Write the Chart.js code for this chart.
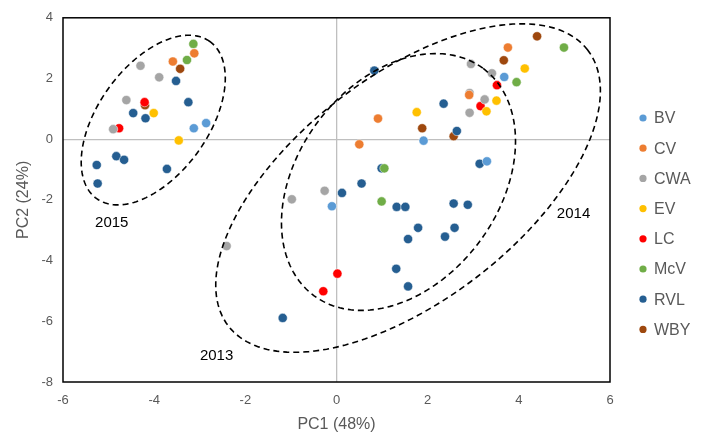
<!DOCTYPE html>
<html>
<head>
<meta charset="utf-8">
<script src="https://cdn.jsdelivr.net/npm/chart.js@4.4.0/dist/chart.umd.min.js"></script>
<style>
  html, body { margin: 0; padding: 0; background: #fff; }
  #wrap { width: 702px; height: 438px; position: relative; }
</style>
</head>
<body>
<div id="wrap"><canvas id="pca"></canvas></div>
<script>
// series names and colours
const seriesNames = ['BV', 'CV', 'CWA', 'EV', 'LC', 'McV', 'RVL', 'WBY'];
const seriesColors = ['#5B9BD5', '#ED7D31', '#A5A5A5', '#FFC000', '#FF0000', '#70AD47', '#255E91', '#9E480E'];

// PC1 / PC2 scores
const bvX = [-2.86, -3.13, 1.91, -0.10, 3.68, 3.30];
const bvY = [0.53, 0.36, -0.05, -2.21, 2.05, -0.73];
const cvX = [-3.12, -3.59, 0.91, 0.50, 3.76, 2.91];
const cvY = [2.83, 2.56, 0.68, -0.17, 3.02, 1.46];
const cwaX = [-4.30, -3.89, -4.61, -4.90, -0.26, -0.98, -2.41, 2.95, 3.41, 2.92, 3.25, 2.92];
const cwaY = [2.42, 2.04, 1.29, 0.33, -1.70, -1.98, -3.52, 2.48, 2.17, 1.52, 1.31, 0.87];
const evX = [-4.01, -3.46, 1.76, 4.13, 3.51, 3.29];
const evY = [0.86, -0.04, 0.89, 2.33, 1.27, 0.92];
const lcX = [-4.21, -4.77, 3.52, 3.16, 0.02, -0.29];
const lcY = [1.22, 0.36, 1.78, 1.09, -4.43, -5.01];
const mcvX = [-3.14, -3.28, 1.05, 0.99, 4.99, 3.95];
const mcvY = [3.14, 2.61, -0.96, -2.05, 3.02, 1.88];
const rvlX = [-3.52, -3.25, -4.46, -4.19, -4.83, -4.66, -5.26, -3.72, -5.24, 0.83, 2.35, 2.64, 0.99, 0.55, 0.12, 1.32, 1.51, 2.57, 2.88, 3.14, 1.79, 2.59, 1.57, 2.38, 1.31, 1.57, -1.18];
const rvlY = [1.92, 1.22, 0.86, 0.69, -0.56, -0.68, -0.85, -0.98, -1.46, 2.26, 1.17, 0.27, -0.96, -1.46, -1.77, -2.23, -2.23, -2.12, -2.16, -0.81, -2.92, -2.92, -3.29, -3.21, -4.27, -4.85, -5.89];
const wbyX = [-3.43, -4.20, 1.88, 2.57, 4.40, 3.67];
const wbyY = [2.32, 1.12, 0.36, 0.10, 3.39, 2.60];

const seriesX = [bvX, cvX, cwaX, evX, lcX, mcvX, rvlX, wbyX];
const seriesY = [bvY, cvY, cwaY, evY, lcY, mcvY, rvlY, wbyY];

// axis ticks
const xTicks = [-6, -4, -2, 0, 2, 4, 6];
const yTicks = [-8, -6, -4, -2, 0, 2, 4];

// year groups: centre and two conjugate semi-axes, in data units
const groupNames = ['2015', '2014', '2013'];
const groupCenters = [[-4.02, 0.63], [1.36, -1.41], [1.57, -1.61]];
const groupAxisU = [[1.24, 2.59], [1.85, 3.75], [3.94, 4.55]];
const groupAxisV = [[-0.98, 1.05], [-1.78, 1.96], [-1.51, 2.93]];
const groupLabelPos = [[-4.93, -2.75], [5.20, -2.46], [-2.63, -7.15]];

const datasets = seriesNames.map((name, i) => ({
  label: name,
  data: seriesX[i].map((x, j) => ({ x: x, y: seriesY[i][j] })),
  backgroundColor: seriesColors[i],
  borderColor: '#ffffff',
  borderWidth: 0.5,
  pointRadius: 4.6,
  pointHoverRadius: 4.6
}));

const groupsPlugin = {
  id: 'groups',
  afterDatasetsDraw(chart) {
    const ctx = chart.ctx;
    const xs = chart.scales.x, ys = chart.scales.y;
    ctx.save();
    ctx.strokeStyle = '#000';
    ctx.lineWidth = 1.6;
    ctx.setLineDash([6, 4]);
    groupCenters.forEach((c, k) => {
      const u = groupAxisU[k], v = groupAxisV[k];
      ctx.beginPath();
      for (let s = 0; s <= 180; s++) {
        const t = s / 180 * Math.PI * 2;
        const px = xs.getPixelForValue(c[0] + u[0] * Math.cos(t) + v[0] * Math.sin(t));
        const py = ys.getPixelForValue(c[1] + u[1] * Math.cos(t) + v[1] * Math.sin(t));
        if (s === 0) ctx.moveTo(px, py); else ctx.lineTo(px, py);
      }
      ctx.closePath();
      ctx.stroke();
    });
    ctx.setLineDash([]);
    ctx.fillStyle = '#000';
    ctx.font = '15px "Liberation Sans", Arial, sans-serif';
    ctx.textAlign = 'center';
    ctx.textBaseline = 'middle';
    groupNames.forEach((g, k) => {
      ctx.fillText(g, xs.getPixelForValue(groupLabelPos[k][0]), ys.getPixelForValue(groupLabelPos[k][1]));
    });
    // plot frame
    const a = chart.chartArea;
    ctx.strokeStyle = '#000';
    ctx.lineWidth = 1.5;
    ctx.strokeRect(a.left, a.top, a.right - a.left, a.bottom - a.top);
    ctx.restore();
  }
};

const legendPlugin = {
  id: 'sideLegend',
  afterDraw(chart) {
    const ctx = chart.ctx;
    ctx.save();
    ctx.font = '16px "Liberation Sans", Arial, sans-serif';
    ctx.textBaseline = 'middle';
    ctx.textAlign = 'left';
    chart.data.datasets.forEach((ds, i) => {
      const y = 118 + i * 30.2;
      ctx.fillStyle = ds.backgroundColor;
      ctx.beginPath();
      ctx.arc(643, y, 3.6, 0, Math.PI * 2);
      ctx.fill();
      ctx.fillStyle = '#595959';
      ctx.fillText(ds.label, 654, y + 1);
    });
    ctx.restore();
  }
};

const tickFont = { family: '"Liberation Sans", Arial, sans-serif', size: 13 };
const titleFont = { family: '"Liberation Sans", Arial, sans-serif', size: 16 };

new Chart(document.getElementById('pca'), {
  type: 'scatter',
  data: { datasets: datasets },
  options: {
    responsive: true,
    maintainAspectRatio: false,
    animation: false,
    layout: { padding: { top: 16, right: 92, left: 10, bottom: 0 } },
    plugins: {
      legend: { display: false },
      tooltip: { enabled: false }
    },
    scales: {
      x: {
        type: 'linear',
        min: -6, max: 6,
        afterBuildTicks: (s) => { s.ticks = xTicks.map(v => ({ value: v })); },
        ticks: { color: '#595959', font: tickFont, padding: 11 },
        grid: {
          drawTicks: false,
          color: (c) => c.tick && c.tick.value === 0 ? '#bfbfbf' : 'rgba(0,0,0,0)',
          lineWidth: 1.3
        },
        border: { display: false },
        title: { display: true, text: 'PC1 (48%)', color: '#595959', font: titleFont, padding: { top: 6 } },
        afterFit: (s) => { s.height = 56; }
      },
      y: {
        type: 'linear',
        min: -8, max: 4,
        afterBuildTicks: (s) => { s.ticks = yTicks.map(v => ({ value: v })); },
        ticks: { color: '#595959', font: tickFont, padding: 10 },
        grid: {
          drawTicks: false,
          color: (c) => c.tick && c.tick.value === 0 ? '#bfbfbf' : 'rgba(0,0,0,0)',
          lineWidth: 1.3
        },
        border: { display: false },
        title: { display: true, text: 'PC2 (24%)', color: '#595959', font: titleFont, padding: { bottom: 6 } },
        afterFit: (s) => { s.width = 53; }
      }
    }
  },
  plugins: [groupsPlugin, legendPlugin]
});
</script>
</body>
</html>
